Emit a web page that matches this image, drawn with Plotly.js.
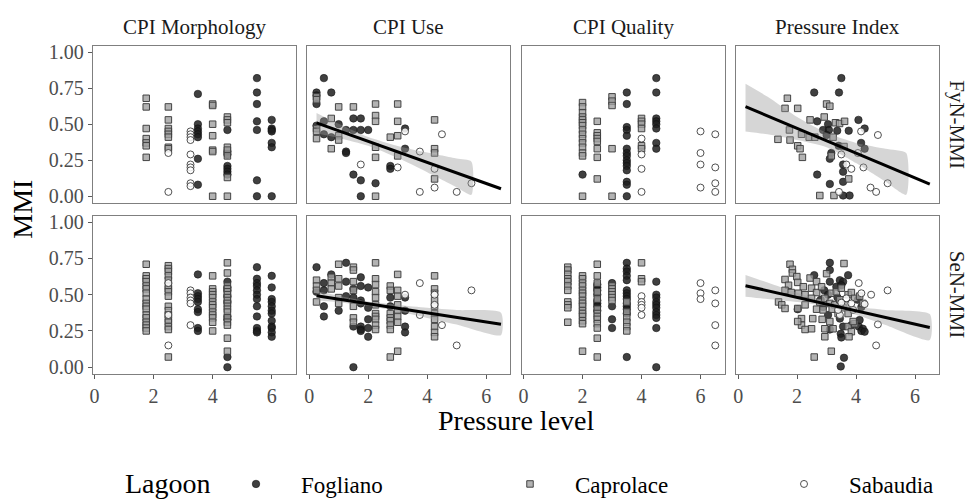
<!DOCTYPE html>
<html><head><meta charset="utf-8">
<script src="https://cdn.plot.ly/plotly-3.0.1.min.js"></script>
<style>html,body{margin:0;padding:0;background:#fff}#chart{width:969px;height:499px}</style>
</head><body><div id="chart"></div>
<script>
// ---------------- data ----------------
const facets = ['CPI Morphology', 'CPI Use', 'CPI Quality', 'Pressure Index'];
const rowLabels = ['FyN-MMI', 'SeN-MMI'];
const lagoons = ['Fogliano', 'Caprolace', 'Sabaudia'];
const xTicks = [0, 2, 4, 6];
const yTicks = [0, 0.25, 0.5, 0.75, 1];
const yTickText = ['0.00', '0.25', '0.50', '0.75', '1.00'];

// grouped panels: [pressure level, [MMI values]]
const fynMorphFog = [[3.5,[0.71,0.50,0.47,0.45,0.43,0.41,0.26,0.08]],[4.5,[0.46,0.31,0.29,0.21,0.19,0.17,0.15]],[5.5,[0.82,0.72,0.64,0.52,0.46,0.11,0.00]],[6,[0.53,0.47,0.46,0.45,0.37,0.34,0.00]]];
const fynMorphCap = [[1.75,[0.68,0.62,0.47,0.40,0.37,0.35,0.27]],[2.5,[0.62,0.53,0.47,0.45,0.43,0.41,0.34,0.33]],[4,[0.64,0.63,0.50,0.42,0.32,0.31,0.00]],[4.5,[0.55,0.53,0.51,0.34,0.32,0.28,0.13,0.00]]];
const fynMorphSab = [[2.5,[0.30,0.03]],[3.25,[0.45,0.43,0.41,0.39,0.29,0.22,0.20,0.18,0.09,0.07]]];

const fynUseFog = [[0.25,[0.72,0.70,0.64,0.49]],[0.5,[0.82,0.52,0.43]],[0.75,[0.72,0.41]],[1,[0.50]],[1.25,[0.46,0.31,0.30]],[1.5,[0.54,0.46,0.15]],[1.75,[0.54,0.46,0.11,0.00]],[2,[0.46]],[2.25,[0.09]],[2.75,[0.21,0.19]],[3.25,[0.47,0.33]]];
const fynUseCap = [[0.25,[0.69,0.67,0.47,0.45,0.40]],[0.75,[0.54,0.33]],[1,[0.62,0.42,0.39]],[1.5,[0.62]],[2.25,[0.64,0.56,0.52,0.34,0.27,0.00]],[2.75,[0.41]],[3,[0.64,0.52,0.42,0.28]],[4.25,[0.53,0.33,0.30,0.12]]];
const fynUseSab = [[1.75,[0.22]],[3,[0.20]],[3.25,[0.45]],[3.75,[0.31,0.03]],[4.25,[0.19,0.06]],[4.5,[0.43]],[5,[0.03]],[5.5,[0.09]]];

const fynQualFog = [[2,[0.15]],[3.5,[0.72,0.64,0.48,0.46,0.42,0.33,0.30,0.28,0.25,0.23,0.21,0.18,0.10,0.08,0.00]],[4.5,[0.82,0.72,0.54,0.52,0.50,0.47,0.37,0.33]]];
const fynQualCap = [[2,[0.65,0.62,0.58,0.55,0.53,0.51,0.49,0.46,0.43,0.40,0.37,0.34,0.30,0.28,0.00]],[2.5,[0.52,0.44,0.42,0.40,0.38,0.33,0.27,0.12]],[3,[0.69,0.66,0.63,0.33,0.00]],[4,[0.54,0.52,0.50,0.47,0.35,0.33]]];
const fynQualSab = [[4,[0.40,0.29,0.19,0.03]],[6,[0.45,0.30,0.22,0.06]],[6.5,[0.43,0.20,0.09,0.03]]];

const senMorphFog = [[3.5,[0.64,0.51,0.49,0.47,0.45,0.40,0.38,0.27,0.25]],[4.5,[0.59,0.55,0.53,0.49,0.45,0.35,0.33,0.07,0.00]],[5.5,[0.69,0.61,0.58,0.56,0.53,0.50,0.47,0.42,0.35,0.27,0.25,0.24]],[6,[0.63,0.55,0.47,0.45,0.42,0.39,0.37,0.32,0.28,0.27,0.24,0.21]]];
const senMorphCap = [[1.75,[0.71,0.63,0.61,0.59,0.56,0.54,0.51,0.47,0.44,0.42,0.40,0.36,0.34,0.31,0.29,0.27,0.25]],[2.5,[0.70,0.68,0.66,0.63,0.60,0.56,0.54,0.52,0.49,0.42,0.39,0.36,0.33,0.31,0.28,0.26,0.07]],[4,[0.63,0.54,0.52,0.50,0.48,0.45,0.43,0.41,0.38,0.36,0.34,0.31,0.25]],[4.5,[0.72,0.65,0.56,0.54,0.52,0.50,0.48,0.46,0.44,0.42,0.40,0.38,0.34,0.31,0.29,0.20,0.11]]];
const senMorphSab = [[2.5,[0.58,0.36,0.15]],[3.25,[0.53,0.51,0.48,0.46,0.44,0.29]]];

const senUseFog = [[0.25,[0.69,0.52]],[0.5,[0.58,0.53,0.42,0.35]],[0.75,[0.64]],[1,[0.39]],[1.25,[0.72,0.59,0.49]],[1.5,[0.54,0.48,0.28,0.00]],[1.75,[0.62,0.56,0.46,0.44,0.28,0.26,0.25]],[2,[0.55,0.41,0.33,0.27,0.21]],[2.75,[0.48,0.42]],[3.25,[0.48,0.39,0.28,0.24]]];
const senUseCap = [[0.25,[0.60,0.56,0.53,0.45]],[0.75,[0.62,0.58,0.54]],[1,[0.71,0.61,0.56,0.48,0.44]],[1.5,[0.69,0.67,0.59,0.53,0.42,0.34,0.31]],[2.25,[0.72,0.61,0.57,0.52,0.48,0.43,0.37,0.35,0.33,0.29,0.26]],[2.75,[0.56,0.53,0.37,0.34,0.32,0.29,0.26,0.07]],[3,[0.64,0.53,0.49,0.43,0.39,0.35,0.31,0.11]],[4.25,[0.63,0.54,0.51,0.46,0.42,0.37,0.33,0.28,0.24,0.21]]];
const senUseSab = [[3.25,[0.50]],[3.75,[0.58,0.36]],[4.25,[0.50,0.43]],[4.5,[0.29]],[5,[0.15]],[5.5,[0.53]]];

const senQualFog = [[2.5,[0.57,0.55,0.53,0.50,0.46,0.44,0.42,0.39]],[3,[0.58,0.42,0.33,0.27]],[3.5,[0.72,0.68,0.66,0.63,0.60,0.53,0.51,0.49,0.47,0.44,0.42,0.40,0.37,0.07]],[4.5,[0.59,0.50,0.48,0.45,0.43,0.41,0.38,0.36,0.34,0.27,0.00]]];
const senQualCap = [[1.5,[0.69,0.67,0.64,0.61,0.59,0.56,0.53,0.45,0.43,0.41,0.31]],[2,[0.63,0.61,0.58,0.56,0.53,0.51,0.49,0.46,0.44,0.42,0.39,0.37,0.35,0.32,0.30,0.11]],[2.5,[0.71,0.63,0.58,0.52,0.47,0.40,0.37,0.35,0.33,0.30,0.27,0.20,0.07]],[3,[0.56,0.54,0.52,0.50,0.48,0.46]],[3.5,[0.45,0.38,0.34,0.31,0.28,0.25]],[4,[0.72,0.61,0.59]]];
const senQualSab = [[4,[0.49,0.45,0.43,0.41,0.36]],[6,[0.58,0.51,0.47]],[6.5,[0.53,0.44,0.29,0.15]]];

// Pressure Index panels: [pressure index, MMI]
const fynPresFog = [[3.5,0.82],[2.58,0.72],[3.42,0.72],[2.68,0.52],[4.08,0.53],[3.05,0.50],[2.88,0.46],[3.08,0.46],[3.36,0.455],[3.75,0.455],[4.29,0.47],[3.0,0.425],[4.17,0.37],[4.29,0.33],[3.41,0.35],[3.16,0.30],[3.11,0.26],[3.56,0.22],[3.56,0.17],[2.68,0.15],[3.11,0.085],[3.56,0.10],[3.56,0.005],[3.78,0.005]];
const fynPresCap = [[1.67,0.68],[1.59,0.61],[2.02,0.61],[3.0,0.64],[3.11,0.625],[2.44,0.53],[2.92,0.55],[3.3,0.51],[3.44,0.505],[3.61,0.52],[1.74,0.46],[2.15,0.43],[1.35,0.395],[1.76,0.39],[2.02,0.35],[2.1,0.33],[2.18,0.27],[2.41,0.41],[2.6,0.41],[3.22,0.41],[3.59,0.345],[3.16,0.28],[3.75,0.12],[2.77,0.005],[3.25,0.005]];
const fynPresSab = [[4.17,0.45],[4.74,0.425],[3.5,0.29],[4.06,0.30],[3.67,0.22],[3.84,0.19],[4.25,0.20],[4.49,0.06],[4.68,0.03],[5.07,0.09],[3.42,0.03]];

const senPresFog = [[3.11,0.72],[3.11,0.67],[2.58,0.635],[3.73,0.635],[3.45,0.60],[3.11,0.59],[3.56,0.59],[3.33,0.555],[3.5,0.565],[2.92,0.53],[3.05,0.50],[3.37,0.48],[4.06,0.465],[4.18,0.415],[2.8,0.465],[2.88,0.415],[3.05,0.36],[3.45,0.335],[3.56,0.28],[3.48,0.23],[3.5,0.205],[3.11,0.26],[4.09,0.28],[4.23,0.265],[4.18,0.25],[4.29,0.245],[4.12,0.325],[2.02,0.40],[3.59,0.065],[3.48,0.005],[3.84,0.29]];
const senPresCap = [[1.76,0.71],[1.84,0.675],[1.84,0.65],[1.59,0.605],[1.71,0.565],[1.99,0.625],[2.02,0.585],[2.21,0.555],[1.59,0.53],[1.8,0.515],[2.04,0.51],[2.27,0.50],[2.44,0.615],[2.66,0.59],[2.49,0.545],[2.66,0.515],[2.83,0.555],[3.0,0.645],[3.16,0.51],[3.33,0.52],[3.5,0.545],[3.59,0.715],[3.73,0.50],[3.84,0.515],[3.95,0.475],[4.12,0.49],[4.23,0.44],[2.49,0.475],[2.77,0.45],[2.94,0.475],[3.11,0.44],[3.28,0.43],[3.45,0.465],[3.56,0.41],[3.67,0.43],[1.37,0.45],[1.48,0.43],[1.59,0.405],[2.02,0.405],[2.27,0.43],[2.66,0.40],[2.88,0.395],[3.19,0.40],[3.39,0.37],[3.73,0.37],[2.15,0.335],[2.15,0.29],[2.53,0.335],[2.49,0.265],[2.85,0.33],[2.94,0.265],[3.11,0.315],[3.22,0.265],[2.94,0.21],[3.73,0.28],[3.84,0.245],[3.95,0.30],[2.02,0.315],[2.27,0.26],[3.76,0.21],[2.58,0.07],[3.16,0.11],[3.9,0.315]];
const senPresSab = [[4.09,0.58],[4.18,0.51],[4.51,0.50],[5.07,0.53],[3.67,0.475],[3.5,0.445],[3.84,0.44],[4.29,0.435],[3.45,0.36],[3.9,0.395],[4.74,0.295],[4.68,0.15],[3.39,0.395]];

// fitted lines (end points) and confidence bands
const fynUseLineX = [0.25, 6.5], fynUseLineY = [0.509, 0.052];
const fynUseBandX = [0.25, 1, 2, 3, 4, 5, 5.5];
const fynUseBandHi = [0.578, 0.503, 0.411, 0.349, 0.303, 0.261, 0.240];
const fynUseBandLo = [0.438, 0.405, 0.351, 0.267, 0.167, 0.063, 0.010];

const fynPresLineX = [0.25, 6.5], fynPresLineY = [0.622, 0.084];
const fynPresBandX = [0.25, 1, 2, 3, 4, 5, 5.7];
const fynPresBandHi = [0.78, 0.69, 0.55, 0.44, 0.37, 0.33, 0.30];
const fynPresBandLo = [0.45, 0.43, 0.39, 0.34, 0.23, 0.10, 0.01];

const senUseLineX = [0.25, 6.5], senUseLineY = [0.493, 0.296];
const senUseBandX = [0.25, 1, 2, 3, 4, 5, 6.5];
const senUseBandHi = [0.525, 0.492, 0.453, 0.429, 0.410, 0.394, 0.376];
const senUseBandLo = [0.461, 0.448, 0.423, 0.385, 0.340, 0.294, 0.221];

const senPresLineX = [0.25, 6.5], senPresLineY = [0.562, 0.274];
const senPresBandX = [0.25, 1, 2, 3, 4, 5, 6.5];
const senPresBandHi = [0.636, 0.584, 0.513, 0.450, 0.417, 0.395, 0.366];
const senPresBandLo = [0.486, 0.470, 0.449, 0.420, 0.361, 0.291, 0.187];

// ---------------- build ----------------
const FONT = "'Liberation Serif', 'Times New Roman', serif";
const W = 969, H = 499;
const colDom = [[92.7, 295.7], [307.3, 510.2], [521.7, 724.5], [736.3, 939]];
const rowDom = [[45.7, 202.7], [215.7, 373.7]];

function fromGroups(g) { const x = [], y = []; g.forEach(([gx, ys]) => ys.forEach(v => { x.push(gx); y.push(v); })); return {x, y}; }
function fromPairs(p) { return {x: p.map(d => d[0]), y: p.map(d => d[1])}; }

const markerStyle = {
  Fogliano: {symbol: 'circle', size: 7.5, color: 'rgba(30,30,30,0.85)', line: {color: 'rgba(15,15,15,0.9)', width: 0.6}},
  Caprolace: {symbol: 'square', size: 6.5, color: 'rgba(160,160,160,0.8)', line: {color: 'rgba(60,60,60,0.95)', width: 1}},
  Sabaudia: {symbol: 'circle', size: 7, color: 'rgba(255,255,255,0.85)', line: {color: 'rgba(50,50,50,0.95)', width: 0.9}}
};

const panels = [
  [fromGroups(fynMorphFog), fromGroups(fynMorphCap), fromGroups(fynMorphSab), null],
  [fromGroups(fynUseFog), fromGroups(fynUseCap), fromGroups(fynUseSab), {lx: fynUseLineX, ly: fynUseLineY, bx: fynUseBandX, hi: fynUseBandHi, lo: fynUseBandLo}],
  [fromGroups(fynQualFog), fromGroups(fynQualCap), fromGroups(fynQualSab), null],
  [fromPairs(fynPresFog), fromPairs(fynPresCap), fromPairs(fynPresSab), {lx: fynPresLineX, ly: fynPresLineY, bx: fynPresBandX, hi: fynPresBandHi, lo: fynPresBandLo}],
  [fromGroups(senMorphFog), fromGroups(senMorphCap), fromGroups(senMorphSab), null],
  [fromGroups(senUseFog), fromGroups(senUseCap), fromGroups(senUseSab), {lx: senUseLineX, ly: senUseLineY, bx: senUseBandX, hi: senUseBandHi, lo: senUseBandLo}],
  [fromGroups(senQualFog), fromGroups(senQualCap), fromGroups(senQualSab), null],
  [fromPairs(senPresFog), fromPairs(senPresCap), fromPairs(senPresSab), {lx: senPresLineX, ly: senPresLineY, bx: senPresBandX, hi: senPresBandHi, lo: senPresBandLo}]
];

const traces = [];
const layout = {
  width: W, height: H, margin: {l: 0, r: 0, t: 0, b: 0, autoexpand: false},
  paper_bgcolor: '#fff', plot_bgcolor: '#fff',
  font: {family: FONT, color: '#000'},
  showlegend: true,
  legend: {
    orientation: 'h', x: 211 / W, xanchor: 'left', y: 1 - 484 / H, yanchor: 'middle',
    font: {family: FONT, size: 23, color: '#000'},
    entrywidth: 179, entrywidthmode: 'pixels', itemwidth: 80,
    bgcolor: 'rgba(0,0,0,0)', traceorder: 'normal'
  },
  annotations: []
};

panels.forEach((p, i) => {
  const r = Math.floor(i / 4), c = i % 4, n = i + 1;
  const xs = n === 1 ? 'x' : 'x' + n, ys = n === 1 ? 'y' : 'y' + n;
  layout['xaxis' + (n === 1 ? '' : n)] = {
    domain: [colDom[c][0] / W, colDom[c][1] / W], anchor: ys,
    range: [-0.0625, 6.8125], showgrid: false, zeroline: false,
    showline: true, mirror: true, linecolor: '#7f7f7f', linewidth: 1,
    tickvals: xTicks, ticks: r === 1 ? 'outside' : '', ticklen: 4, tickcolor: '#5a5a5a', tickwidth: 1,
    showticklabels: r === 1, tickfont: {family: FONT, size: 20, color: '#4d4d4d'}, automargin: false
  };
  layout['yaxis' + (n === 1 ? '' : n)] = {
    domain: [1 - rowDom[r][1] / H, 1 - rowDom[r][0] / H], anchor: xs,
    range: [-0.045, 1.045], showgrid: false, zeroline: false,
    showline: true, mirror: true, linecolor: '#7f7f7f', linewidth: 1,
    tickvals: yTicks, ticktext: yTickText, ticks: c === 0 ? 'outside' : '', ticklen: 4, tickcolor: '#5a5a5a', tickwidth: 1,
    showticklabels: c === 0, tickfont: {family: FONT, size: 20, color: '#4d4d4d'}, automargin: false
  };
  lagoons.forEach((lg, k) => {
    traces.push({
      type: 'scatter', mode: 'markers', x: p[k].x, y: p[k].y, xaxis: xs, yaxis: ys,
      name: lg, legendgroup: lg, showlegend: i === 0, marker: markerStyle[lg], hoverinfo: 'skip'
    });
  });
  const f = p[3];
  if (f) {
    traces.push({
      type: 'scatter', mode: 'lines', xaxis: xs, yaxis: ys,
      x: f.bx.concat(f.bx.slice().reverse()), y: f.hi.concat(f.lo.slice().reverse()),
      fill: 'toself', fillcolor: 'rgba(153,153,153,0.4)', line: {width: 0, color: 'rgba(0,0,0,0)', shape: 'spline', smoothing: 0.6},
      showlegend: false, hoverinfo: 'skip'
    });
    traces.push({
      type: 'scatter', mode: 'lines', xaxis: xs, yaxis: ys, x: f.lx, y: f.ly,
      line: {color: '#000', width: 3}, showlegend: false, hoverinfo: 'skip'
    });
  }
});

facets.forEach((t, c) => {
  layout.annotations.push({text: t, xref: 'paper', yref: 'paper', x: (colDom[c][0] + colDom[c][1]) / 2 / W, y: 1 - 27 / H,
    xanchor: 'center', yanchor: 'middle', showarrow: false, font: {family: FONT, size: 21, color: '#1a1a1a'}});
});
rowLabels.forEach((t, r) => {
  layout.annotations.push({text: t, xref: 'paper', yref: 'paper', x: 957 / W, y: 1 - (rowDom[r][0] + rowDom[r][1]) / 2 / H,
    xanchor: 'center', yanchor: 'middle', textangle: 90, showarrow: false, font: {family: FONT, size: 21, color: '#1a1a1a'}});
});
layout.annotations.push({text: 'MMI', xref: 'paper', yref: 'paper', x: 23 / W, y: 1 - 209.7 / H,
  xanchor: 'center', yanchor: 'middle', textangle: -90, showarrow: false, font: {family: FONT, size: 28, color: '#000'}});
layout.annotations.push({text: 'Pressure level', xref: 'paper', yref: 'paper', x: 516 / W, y: 1 - 420 / H,
  xanchor: 'center', yanchor: 'middle', showarrow: false, font: {family: FONT, size: 28, color: '#000'}});
layout.annotations.push({text: 'Lagoon', xref: 'paper', yref: 'paper', x: 168 / W, y: 1 - 483 / H,
  xanchor: 'center', yanchor: 'middle', showarrow: false, font: {family: FONT, size: 28, color: '#000'}});

Plotly.newPlot('chart', traces, layout, {staticPlot: true, displayModeBar: false});
</script>
</body></html>
